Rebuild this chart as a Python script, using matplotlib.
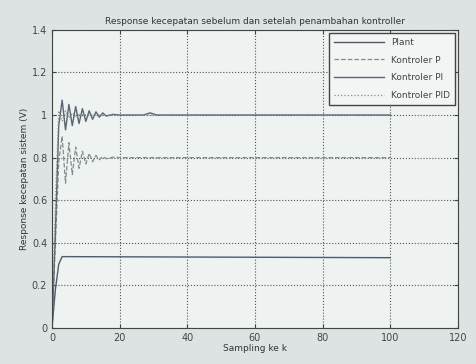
import matplotlib
matplotlib.use("Agg")
import matplotlib.pyplot as plt

# sampling index and responses
plant_k = [0, 1, 2, 3, 4, 100]
plant_y = [0, 0.18, 0.30, 0.335, 0.335, 0.33]

p_k = [0, 1, 2, 3, 4, 5, 6, 7, 8, 9, 10, 11, 12, 13, 14, 15, 16, 18, 20, 25, 30, 100]
p_y = [0, 0.40, 0.78, 0.90, 0.68, 0.87, 0.72, 0.85, 0.75, 0.83, 0.77, 0.82, 0.78, 0.81, 0.79, 0.805, 0.795, 0.802, 0.80, 0.80, 0.80, 0.80]

pi_k = [0, 1, 2, 3, 4, 5, 6, 7, 8, 9, 10, 11, 12, 13, 14, 15, 16, 18, 20, 27, 29, 31, 100]
pi_y = [0, 0.45, 0.95, 1.07, 0.93, 1.05, 0.95, 1.04, 0.96, 1.03, 0.97, 1.02, 0.98, 1.015, 0.99, 1.01, 0.995, 1.003, 1.0, 1.0, 1.01, 1.0, 1.0]

pid_k = [0, 1, 2, 3, 4, 5, 6, 7, 8, 10, 12, 100]
pid_y = [0, 0.60, 1.02, 0.97, 1.02, 0.985, 1.01, 0.995, 1.003, 1.0, 1.0, 1.0]

labels = ["Plant", "Kontroler P", "Kontroler PI", "Kontroler PID"]

fig = plt.figure(figsize=(4.77, 3.64), dpi=100, facecolor="#dde3e3")
ax = fig.add_axes([0.109, 0.099, 0.851, 0.819], facecolor="#eef2f0")

ax.plot(plant_k, plant_y, color="#4c5c6c", lw=1.0, label=labels[0])
ax.plot(p_k, p_y, color="#7f8d8f", lw=0.9, ls="--", label=labels[1])
ax.plot(pi_k, pi_y, color="#5a6672", lw=1.0, label=labels[2])
ax.plot(pid_k, pid_y, color="#7e8c92", lw=0.9, ls=":", label=labels[3])

ax.set_xlim(0, 120)
ax.set_ylim(0, 1.4)
ax.set_xticks([0, 20, 40, 60, 80, 100, 120])
ax.set_yticks([0, 0.2, 0.4, 0.6, 0.8, 1, 1.2, 1.4])
ax.set_yticklabels(["0", "0.2", "0.4", "0.6", "0.8", "1", "1.2", "1.4"])
ax.grid(True, ls=":", color="#555", lw=0.8)
ax.tick_params(direction="in", labelsize=7, colors="#444", top=True, right=True, length=3)
for s in ax.spines.values():
    s.set_color("#444")

ax.set_title("Response kecepatan sebelum dan setelah penambahan kontroller", fontsize=6.5, color="#333", pad=4)
ax.set_xlabel("Sampling ke k", fontsize=6.5, color="#333", labelpad=1)
ax.set_ylabel("Response kecepatan sistem (V)", fontsize=6.5, color="#333", labelpad=2)

leg = ax.legend(loc="upper right", fontsize=6.5, frameon=True, fancybox=False,
                edgecolor="#444", facecolor="#f2f5f3", framealpha=1,
                handlelength=5.5, labelspacing=0.95, borderaxespad=0.3, borderpad=0.6)
for t in leg.get_texts():
    t.set_color("#444")

fig.savefig("out.png", dpi=100, facecolor=fig.get_facecolor())
